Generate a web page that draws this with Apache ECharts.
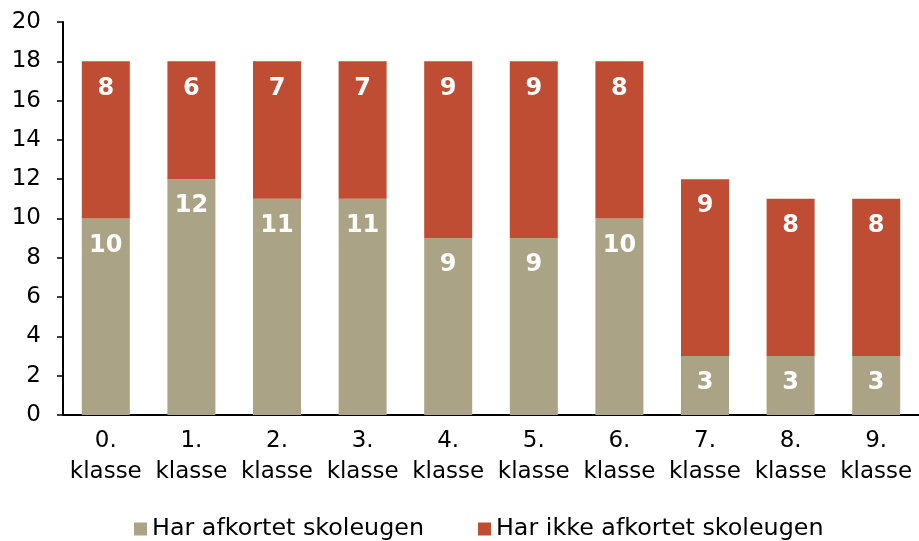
<!DOCTYPE html>
<html>
<head>
<meta charset="utf-8">
<script src="https://cdn.jsdelivr.net/npm/echarts@6/dist/echarts.min.js"></script>
<style>
  html, body { margin: 0; padding: 0; background: #fff; }
  #chart { width: 919px; height: 541px; }
</style>
</head>
<body>
<div id="chart"></div>
<script>
var categories = ['0.\nklasse', '1.\nklasse', '2.\nklasse', '3.\nklasse', '4.\nklasse',
                  '5.\nklasse', '6.\nklasse', '7.\nklasse', '8.\nklasse', '9.\nklasse'];
var afkortet = [10, 12, 11, 11, 9, 9, 10, 3, 3, 3];
var ikkeAfkortet = [8, 6, 7, 7, 9, 9, 8, 9, 8, 8];

var font = 'DejaVu Sans, Verdana, sans-serif';
var chart = echarts.init(document.getElementById('chart'));

var labelStyle = {
  show: true,
  position: 'insideTop',
  distance: 15,
  color: '#fff',
  fontWeight: 'bold',
  fontSize: 24,
  fontFamily: font
};

chart.setOption({
  animation: false,
  grid: { left: 63, right: -5, top: 22, bottom: 126 },
  legend: {
    top: 512,
    left: 129,
    itemGap: 54,
    itemWidth: 13,
    itemHeight: 13,
    icon: 'rect',
    textStyle: { fontSize: 23.8, fontFamily: font, color: '#000', padding: [0, 0, 0, 0] },
    data: ['Har afkortet skoleugen', 'Har ikke afkortet skoleugen']
  },
  xAxis: {
    type: 'category',
    data: categories,
    axisLine: { lineStyle: { color: '#000', width: 2 } },
    axisTick: { alignWithLabel: false, length: 6, lineStyle: { color: '#000', width: 1.5 } },
    axisLabel: { fontSize: 23, fontFamily: font, color: '#000', lineHeight: 31, margin: 11, interval: 0 }
  },
  yAxis: {
    type: 'value',
    min: 0,
    max: 20,
    interval: 2,
    splitLine: { show: false },
    axisLine: { show: true, lineStyle: { color: '#000', width: 2 } },
    axisTick: { show: true, length: 6, lineStyle: { color: '#000', width: 1.5 } },
    axisLabel: { fontSize: 23, fontFamily: font, color: '#000', margin: 22 }
  },
  series: [
    {
      name: 'Har afkortet skoleugen',
      type: 'bar',
      stack: 'total',
      barWidth: 48,
      data: afkortet,
      itemStyle: { color: '#ABA386' },
      label: labelStyle
    },
    {
      name: 'Har ikke afkortet skoleugen',
      type: 'bar',
      stack: 'total',
      barWidth: 48,
      data: ikkeAfkortet,
      itemStyle: { color: '#BE4D33' },
      label: labelStyle
    }
  ]
});
</script>
</body>
</html>
